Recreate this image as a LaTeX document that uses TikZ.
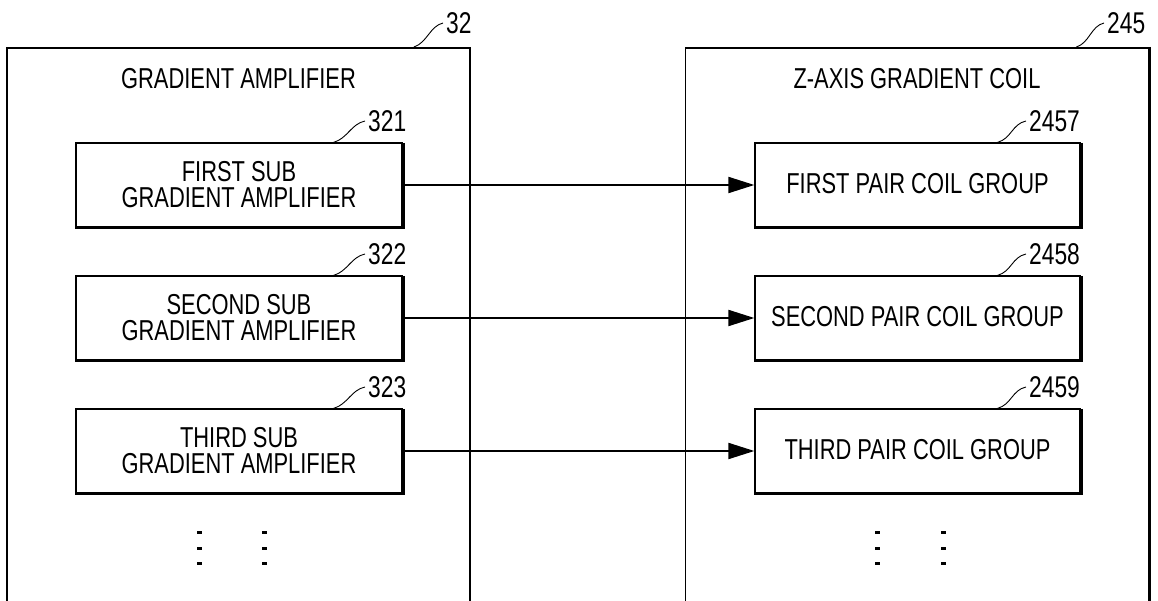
\documentclass[tikz,border=0pt]{standalone}
\usepackage{fontspec}
\setmainfont{Liberation Sans}[FakeStretch=0.76]
\usetikzlibrary{arrows.meta}
\begin{document}
\begin{tikzpicture}[x=1pt,y=-1pt,
  txt/.style={font=\fontsize{28.8}{26}\selectfont, align=center, inner sep=0pt},
  outerbox/.style={draw, line width=1.8pt, minimum width=463pt, minimum height=640pt, anchor=north, inner sep=0pt},
  blk/.style={draw, line width=1.3pt, minimum width=326pt, minimum height=84pt, txt},
  shadowedge/.style={line width=3pt},
  labeltxt/.style={font=\fontsize{30}{30}\selectfont, anchor=west, inner sep=3pt},
  leader/.style={line width=0.9pt},
  conn/.style={line width=2pt, -{Triangle[length=26pt,width=16pt]}},
  dotmark/.style={fill=black}]
\useasboundingbox (0,0) rectangle (1158,601);
\clip (0,0) rectangle (1158,601);
% outer containers
\node[outerbox] (L) at (238.5,47) {};
\node[outerbox] (R) at (917,47) {};
\draw[line width=3pt] (R.north east) -- (R.south east);
\node[txt] (tL) at (238.5,79) {GRADIENT AMPLIFIER};
\node[txt] (tR) at (917,79) {Z-AXIS GRADIENT COIL};
% inner blocks
\node[blk] (a1) at (239,185) {FIRST SUB\\GRADIENT AMPLIFIER};
\node[blk] (a2) at (239,318) {SECOND SUB\\GRADIENT AMPLIFIER};
\node[blk] (a3) at (239,451) {THIRD SUB\\GRADIENT AMPLIFIER};
\node[blk, minimum width=325pt] (b1) at (917.5,185) {\raisebox{3pt}{FIRST PAIR COIL GROUP}};
\node[blk, minimum width=325pt] (b2) at (917.5,318) {\raisebox{3pt}{SECOND PAIR COIL GROUP}};
\node[blk, minimum width=325pt] (b3) at (917.5,451) {\raisebox{3pt}{THIRD PAIR COIL GROUP}};
\foreach \n in {a1,a2,a3,b1,b2,b3}
  \draw[shadowedge] ([xshift=0.6pt,yshift=-0.6pt]\n.north east) -- ([xshift=0.6pt,yshift=0.6pt]\n.south east) -- ([yshift=0.6pt]\n.south west);
% connectors
\draw[conn] (a1.east) -- (b1.west);
\draw[conn] (a2.east) -- (b2.west);
\draw[conn] (a3.east) -- (b3.west);
% reference labels
\node[labeltxt] (n32) at (443,23) {32};
\node[labeltxt] (n245) at (1104,23) {245};
\node[labeltxt] (n321) at (365,121) {321};
\node[labeltxt] (n322) at (365,254) {322};
\node[labeltxt] (n323) at (365,387) {323};
\node[labeltxt] (n2457) at (1026,121) {2457};
\node[labeltxt] (n2458) at (1026,254) {2458};
\node[labeltxt] (n2459) at (1026,387) {2459};
\draw[leader] ([xshift=-57pt]L.north east) .. controls +(13,-4) and +(-13,3) .. (n32.west);
\draw[leader] ([xshift=-73pt]R.north east) .. controls +(13,-4) and +(-13,3) .. (n245.west);
\draw[leader] ([xshift=-69pt]a1.north east) .. controls +(14,-4) and +(-14,3) .. (n321.west);
\draw[leader] ([xshift=-69pt]a2.north east) .. controls +(14,-4) and +(-14,3) .. (n322.west);
\draw[leader] ([xshift=-69pt]a3.north east) .. controls +(14,-4) and +(-14,3) .. (n323.west);
\draw[leader] ([xshift=-83pt]b1.north east) .. controls +(14,-4) and +(-14,3) .. (n2457.west);
\draw[leader] ([xshift=-83pt]b2.north east) .. controls +(14,-4) and +(-14,3) .. (n2458.west);
\draw[leader] ([xshift=-83pt]b3.north east) .. controls +(14,-4) and +(-14,3) .. (n2459.west);
% continuation dots
\foreach \x in {199,264,877,943}
  \foreach \y in {532,548,563}
    \fill[dotmark] (\x-2.5,\y-1.5) rectangle (\x+2.5,\y+1.5);
\end{tikzpicture}
\end{document}
